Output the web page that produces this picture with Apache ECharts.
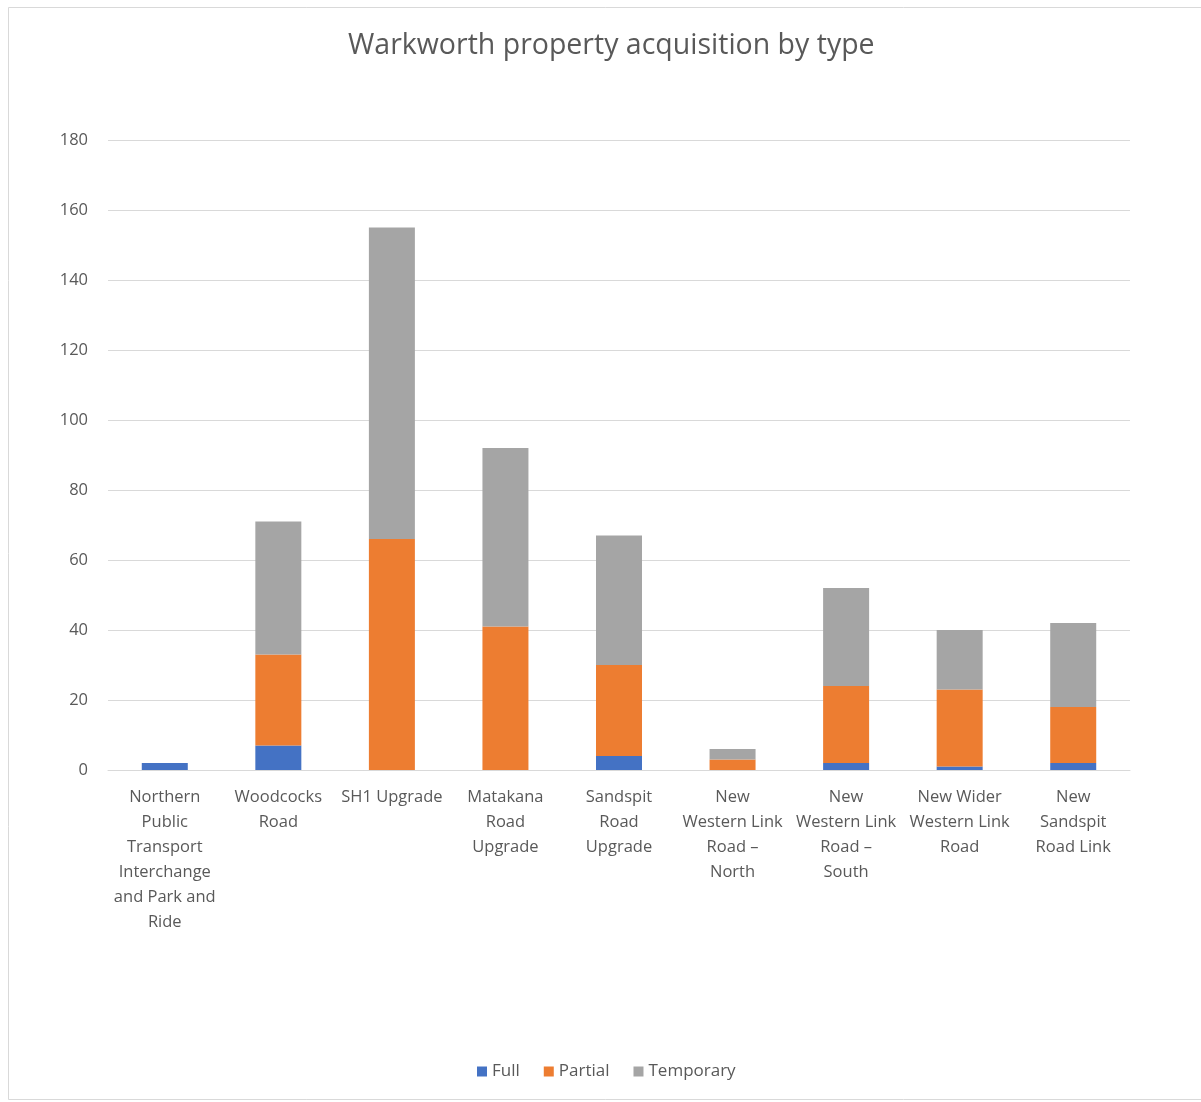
<!DOCTYPE html>
<html>
<head>
<meta charset="utf-8">
<script src="https://cdn.jsdelivr.net/npm/echarts@6/dist/echarts.min.js"></script>
<style>
html,body{margin:0;padding:0;background:#fff;}
#chart{width:1201px;height:1102px;}
</style>
</head>
<body>
<div id="chart"></div>
<script>
const categories = [
  "Northern\nPublic\nTransport\nInterchange\nand Park and\nRide",
  "Woodcocks\nRoad",
  "SH1 Upgrade",
  "Matakana\nRoad\nUpgrade",
  "Sandspit\nRoad\nUpgrade",
  "New\nWestern Link\nRoad –\nNorth",
  "New\nWestern Link\nRoad –\nSouth",
  "New Wider\nWestern Link\nRoad",
  "New\nSandspit\nRoad Link"
];
const fullValues      = [2, 7, 0, 0, 4, 0, 2, 1, 2];
const partialValues   = [0, 26, 66, 41, 26, 3, 22, 22, 16];
const temporaryValues = [0, 38, 89, 51, 37, 3, 28, 17, 24];
const yTicks = [0, 20, 40, 60, 80, 100, 120, 140, 160, 180];

const FONT = "Open Sans";
const TXT = "#595959";
const chart = echarts.init(document.getElementById('chart'), null, {renderer: 'canvas'});
function mk(name, data, color) {
  return {
    name: name, type: 'bar', stack: 'total', data: data, barWidth: 46,
    itemStyle: {color: color}, emphasis: {disabled: true}
  };
}
chart.setOption({
  animation: false,
  backgroundColor: '#fff',
  graphic: [{
    type: 'rect', shape: {x: 8.5, y: 7.5, width: 1200, height: 1092},
    style: {fill: 'none', stroke: '#d9d9d9', lineWidth: 1}, silent: true
  }],
  title: {
    text: 'Warkworth property acquisition by type',
    left: 343, top: 26,
    textStyle: {fontFamily: FONT, fontSize: 28.5, fontWeight: 'normal', color: TXT}
  },
  legend: {
    bottom: 17, left: 472, itemWidth: 10, itemHeight: 10, itemGap: 24,
    icon: 'rect', orient: 'horizontal',
    textStyle: {fontFamily: FONT, fontSize: 17, color: TXT},
    data: ['Full', 'Partial', 'Temporary']
  },
  grid: {left: 108, right: 71, top: 140, bottom: 332, containLabel: false},
  xAxis: {
    type: 'category', data: categories,
    axisLine: {lineStyle: {color: '#d9d9d9', width: 1}},
    axisTick: {show: false},
    axisLabel: {
      interval: 0, fontFamily: FONT, fontSize: 16.5, color: TXT,
      lineHeight: 25, margin: 15
    }
  },
  yAxis: {
    type: 'value', min: yTicks[0], max: yTicks[yTicks.length - 1], interval: 20,
    axisLine: {show: false}, axisTick: {show: false},
    splitLine: {lineStyle: {color: '#d9d9d9', width: 1}},
    axisLabel: {fontFamily: FONT, fontSize: 16.5, color: TXT, margin: 20}
  },
  series: [
    mk('Full', fullValues, '#4472C4'),
    mk('Partial', partialValues, '#ED7D31'),
    mk('Temporary', temporaryValues, '#A5A5A5')
  ]
});
</script>
</body>
</html>
